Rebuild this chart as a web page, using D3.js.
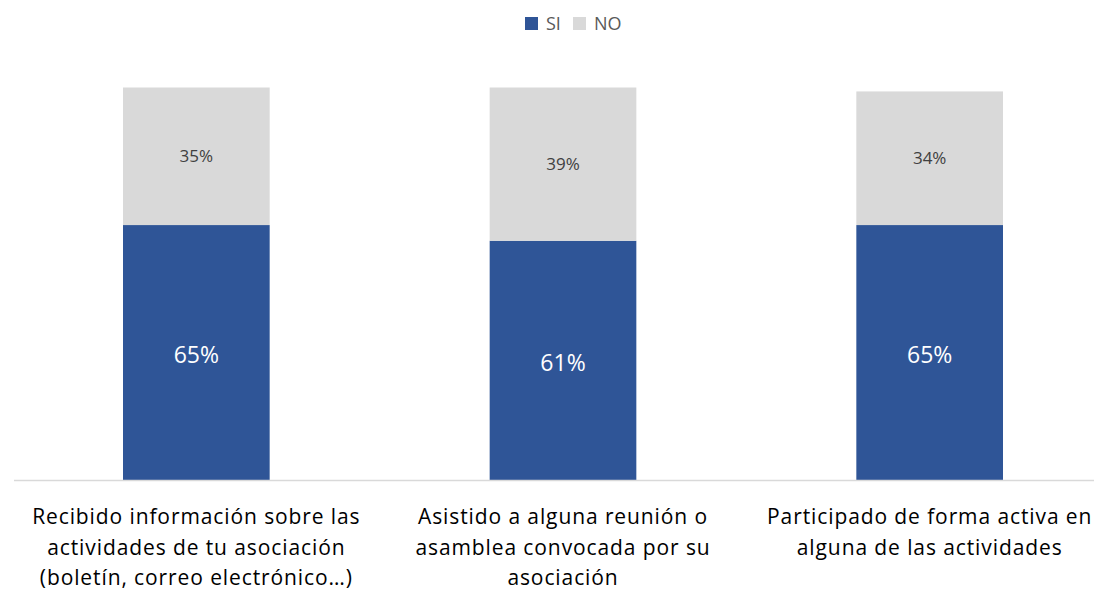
<!DOCTYPE html>
<html>
<head>
<meta charset="utf-8">
<script src="https://cdn.jsdelivr.net/npm/d3@7"></script>
<style>
  body { margin: 0; background: #fff; }
  text { font-family: "Open Sans", "Lato", sans-serif; }
</style>
</head>
<body>
<div id="chart"></div>
<script>
const width = 1094
const height = 590

// Data
const categories = [
    ["Recibido información sobre las", "actividades de tu asociación", "(boletín, correo electrónico…)"],
    ["Asistido a alguna reunión o", "asamblea convocada por su", "asociación"],
    ["Participado de forma activa en", "alguna de las actividades"]
]
const siValues = [65, 61, 65]
const noValues = [35, 39, 34]
const seriesNames = ["SI", "NO"]
const colors = ["#2f5597", "#d9d9d9"]

const svg = d3.select("div#chart").append("svg").attr("width", width).attr("height", height)

const x = d3.scaleBand().domain(d3.range(categories.length)).range([13, 1113]).paddingInner(0.6).paddingOuter(0.3)
const y = d3.scaleLinear().domain([0, 100]).range([480.5, 87.5])

const rows = categories.map((c, i) => ({i: i, SI: siValues[i], NO: noValues[i]}))
const stacked = d3.stack().keys(seriesNames)(rows)

// Bars
const layers = svg.append("g").selectAll("g")
    .data(stacked)
    .enter().append("g")
    .attr("fill", (d, k) => colors[k])

layers.selectAll("rect")
    .data(d => d)
    .enter().append("rect")
    .attr("x", d => x(d.data.i))
    .attr("y", d => y(d[1]))
    .attr("width", x.bandwidth())
    .attr("height", d => y(d[0]) - y(d[1]))

// Value labels
layers.each(function(layer, k) {
    d3.select(this).selectAll("text")
        .data(layer)
        .enter().append("text")
        .attr("x", d => x(d.data.i) + x.bandwidth() / 2)
        .attr("y", d => (y(d[0]) + y(d[1])) / 2 + (k === 0 ? 2 : 0))
        .attr("dy", "0.35em")
        .attr("text-anchor", "middle")
        .attr("fill", k === 0 ? "#ffffff" : "#404040")
        .attr("font-size", k === 0 ? 23 : 17)
        .text(d => (d[1] - d[0]) + "%")
})

// Axis line
svg.append("line")
    .attr("x1", 14).attr("x2", width)
    .attr("y1", y(0)).attr("y2", y(0))
    .attr("stroke", "#d9d9d9").attr("stroke-width", 1.5)

// Category labels
const labels = svg.append("g").selectAll("text")
    .data(categories)
    .enter().append("text")
    .attr("text-anchor", "middle")
    .attr("fill", "#000")
    .attr("font-size", 21)
    .attr("letter-spacing", 0.9)
    .attr("transform", (d, i) => `translate(${x(i) + x.bandwidth() / 2}, 524)`)

labels.selectAll("tspan")
    .data(d => d)
    .enter().append("tspan")
    .attr("x", 0)
    .attr("y", (d, j) => j * 30.5)
    .text(d => d)

// Legend
const legend = svg.append("g").attr("transform", "translate(525, 17)")
const legendX = [0, 48]
seriesNames.forEach((name, k) => {
    legend.append("rect").attr("x", legendX[k]).attr("y", 0).attr("width", 13).attr("height", 13).attr("fill", colors[k])
    legend.append("text").attr("x", legendX[k] + 21).attr("y", 6.5).attr("dy", "0.35em")
        .attr("font-size", 18).attr("fill", "#595959").text(name)
})
</script>
</body>
</html>
